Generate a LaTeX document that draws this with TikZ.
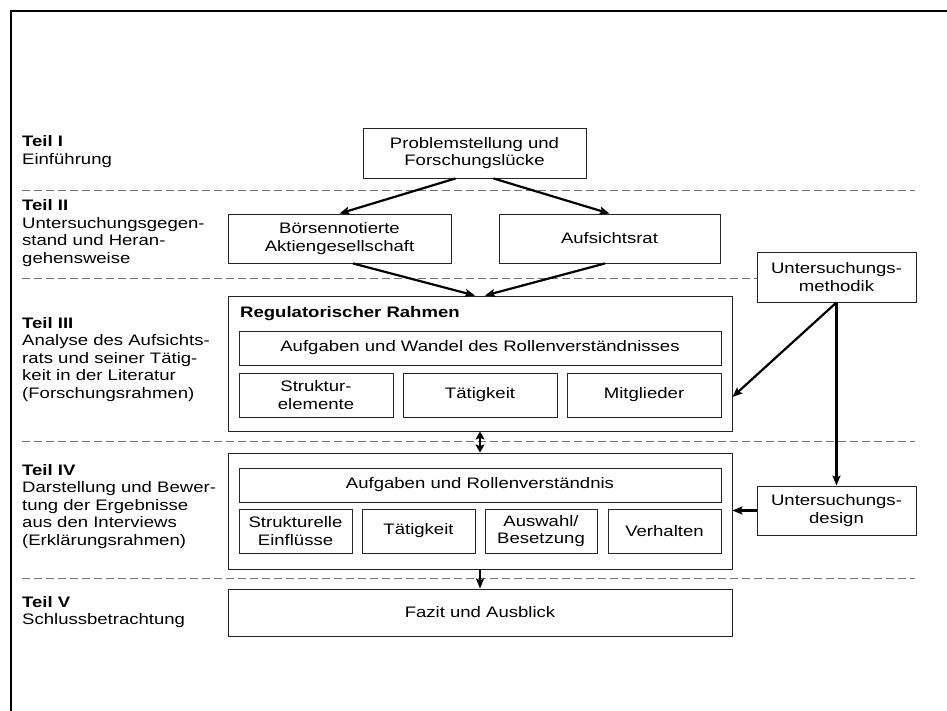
\documentclass[tikz,border=0pt]{standalone}
\usepackage{fontspec}
\setmainfont[FakeStretch=1.22]{Liberation Sans}
\usetikzlibrary{arrows.meta,calc}
\begin{document}
\begin{tikzpicture}[x=1pt,y=-1pt,
  every node/.style={font=\fontsize{15.2}{17.5}\selectfont, inner sep=0pt},
  box/.style 2 args={draw=black!85, fill=white, line width=0.9pt, align=center,
    minimum width=#1, minimum height=#2},
  part/.style={anchor=base west, align=left},
  flow/.style={line width=2.2pt, -{Stealth[length=10pt,width=8pt,inset=2pt]}},
  both/.style={line width=2pt,
    {Stealth[length=8pt,width=9pt,inset=1.5pt]}-{Stealth[length=8pt,width=9pt,inset=1.5pt]}},
  sep/.style={draw=black!55, line width=0.9pt, dash pattern=on 8pt off 4pt},
  frame/.style={line width=2.5pt}
]
\useasboundingbox (0,0) rectangle (947,711);

% outer frame (left and top edges)
\draw[frame] (11,711) -- (11,11) -- (947,11);

% dashed separators between the parts
\foreach \y in {190,278,441,578}
  \draw[sep] (22,\y) -- (915,\y);

% part labels (placed by the baseline of their last line)
\node[part] (t1) at (22,164.5) {\textbf{Teil I}\\Einführung};
\node[part] (t2) at (22,263.5) {\textbf{Teil II}\\Untersuchungsgegen-\\stand und Heran-\\gehensweise};
\node[part] (t3) at (22,398) {\textbf{Teil III}\\Analyse des Aufsichts-\\rats und seiner Tätig-\\keit in der Literatur\\(Forschungsrahmen)};
\node[part] (t4) at (22,545) {\textbf{Teil IV}\\Darstellung und Bewer-\\tung der Ergebnisse\\aus den Interviews\\(Erklärungsrahmen)};
\node[part] (t5) at (22,624.5) {\textbf{Teil V}\\Schlussbetrachtung};

% Teil I and II
\node[box={223pt}{50pt}] (prob) at (474.5,153) {Problemstellung und\\Forschungslücke};
\node[box={223pt}{49pt}] (boer) at (339.5,238.5) {Börsennotierte\\Aktiengesellschaft};
\node[box={221pt}{49pt}] (aufs) at (609.5,238.5) {Aufsichtsrat};

% method boxes on the right
\node[box={159pt}{50pt}] (meth) at (836.5,277) {Untersuchungs-\\methodik};
\node[box={159pt}{49pt}] (design) at (836.5,510.5) {Untersuchungs-\\design};

% Teil III: research frame
\node[box={504pt}{135pt}] (reg) at (480,363.5) {};
\node[anchor=base west] (regt) at (240,317) {\textbf{Regulatorischer Rahmen}};
\node[box={482pt}{34pt}] (aufw) at (480,348) {Aufgaben und Wandel des Rollenverständnisses};
\node[box={154pt}{44pt}] (struk) at (316,395) {Struktur-\\elemente};
\node[box={154pt}{44pt}] (taet1) at (480,395) {Tätigkeit};
\node[box={154pt}{44pt}] (mitg) at (644,395) {Mitglieder};

% Teil IV: explanation frame
\node[box={504pt}{116pt}] (ana) at (480,511) {};
\node[box={482pt}{34pt}] (aufr) at (480,485) {Aufgaben und Rollenverständnis};
\node[box={113pt}{44pt}] (einf) at (295.5,531) {Strukturelle\\Einflüsse};
\node[box={113pt}{44pt}] (taet2) at (418.5,531) {Tätigkeit};
\node[box={112pt}{44pt}] (ausw) at (541,531) {Auswahl/\\Besetzung};
\node[box={113pt}{44pt}] (verh) at (664.5,531) {Verhalten};

% Teil V
\node[box={504pt}{47pt}] (fazit) at (480,612.5) {Fazit und Ausblick};

% connectors
\draw[flow] ($(prob.south)+(-19,0)$) -- (boer.north);
\draw[flow] ($(prob.south)+(19,0)$) -- (aufs.north);
\draw[flow] ($(boer.south)+(13.5,0)$) -- ($(reg.north)+(-5,0)$);
\draw[flow] ($(aufs.south)+(-4.5,0)$) -- ($(reg.north)+(5,0)$);
\draw[flow] (meth.south) -- ($(reg.east)+(0,33.5)$);
\draw[flow] (meth.south) -- (design.north);
\draw[flow] (design.west) -- (design.west -| ana.east);
\draw[both] (reg.south) -- (ana.north);
\draw[flow, line width=2pt] (ana.south) -- (fazit.north);
\end{tikzpicture}
\end{document}
